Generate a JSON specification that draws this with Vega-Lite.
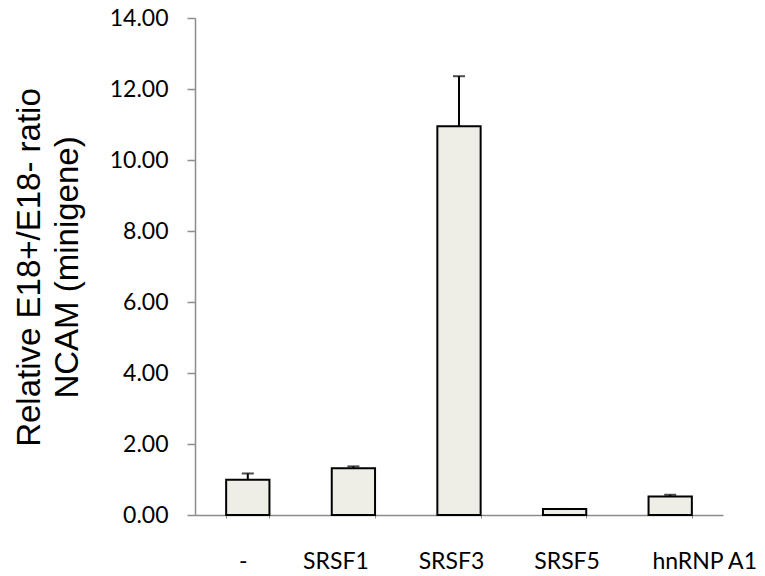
{
  "$schema": "https://vega.github.io/schema/vega-lite/v6.json",
  "width": 528,
  "height": 497,
  "autosize": "none",
  "padding": {"left": 195, "top": 18, "right": 42, "bottom": 61},
  "background": "white",
  "config": {"view": {"stroke": null}},
  "data": {"values": [
    {"group": "-", "value": 0.99, "hi": 1.17},
    {"group": "SRSF1", "value": 1.32, "hi": 1.37},
    {"group": "SRSF3", "value": 10.95, "hi": 12.36},
    {"group": "SRSF5", "value": 0.17, "hi": 0.17},
    {"group": "hnRNP A1", "value": 0.52, "hi": 0.57}
  ]},
  "encoding": {
    "x": {
      "field": "group", "type": "nominal", "sort": null,
      "scale": {"paddingInner": 0.59, "paddingOuter": 0.295},
      "axis": {
        "title": null, "labelAngle": 0, "labelFont": "Lato", "labelFontSize": 23,
        "labelColor": "black", "labelPadding": 32,
        "labelOffset": {"expr": "datum.value == '-' ? -5 : datum.value == 'SRSF1' ? -18 : datum.value == 'SRSF3' ? -8 : datum.value == 'SRSF5' ? 2 : 34"},
        "domainColor": "#8c8c8c", "domainWidth": 1.5,
        "tickBand": "extent", "tickColor": "#8c8c8c", "tickSize": 3, "tickWidth": 1
      }
    }
  },
  "layer": [
    {
      "mark": {"type": "bar", "fill": "#EEEEE6", "stroke": "black", "strokeWidth": 2},
      "encoding": {
        "y": {
          "field": "value", "type": "quantitative",
          "scale": {"domain": [0, 14], "nice": false},
          "axis": {
            "values": [0, 2, 4, 6, 8, 10, 12, 14], "format": ".2f", "grid": false,
            "labelFont": "Lato", "labelFontSize": 23, "labelColor": "black", "labelPadding": 19,
            "tickSize": 8, "tickColor": "#8c8c8c", "tickWidth": 1.5, "domainColor": "#8c8c8c", "domainWidth": 1.5,
            "title": ["Relative E18+/E18- ratio", "NCAM (minigene)"],
            "titleFont": "Liberation Sans", "titleFontSize": 33, "titleFontWeight": "normal", "titleColor": "black",
            "titleAngle": -90, "titleAlign": "center", "titleBaseline": "alphabetic", "titleLineHeight": 38,
            "titleX": -156, "titleY": 249
          }
        }
      }
    },
    {
      "mark": {"type": "rule", "color": "black", "strokeWidth": 2},
      "encoding": {
        "y": {"field": "value", "type": "quantitative"},
        "y2": {"field": "hi"}
      }
    },
    {
      "mark": {"type": "tick", "color": "black", "thickness": 2, "size": 12},
      "encoding": {
        "y": {"field": "hi", "type": "quantitative"}
      }
    }
  ]
}
